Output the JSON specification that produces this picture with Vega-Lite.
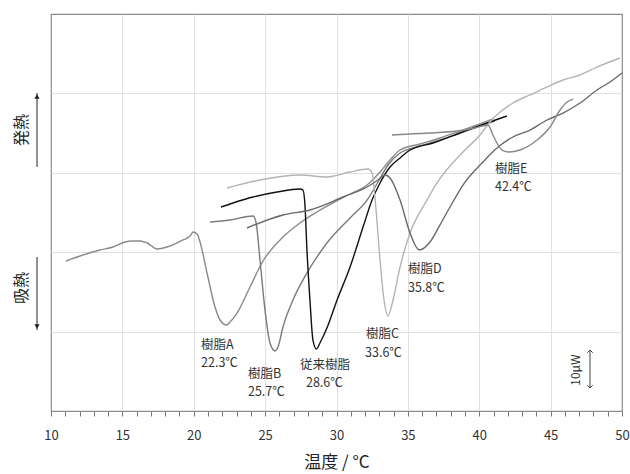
{
  "$schema": "https://vega.github.io/schema/vega-lite/v6.json",
  "width": 571,
  "height": 397,
  "autosize": {"type": "none"},
  "padding": {"left": 51, "top": 14, "right": 8, "bottom": 63},
  "background": "white",
  "config": {"view": {"stroke": "#8c8c8c", "strokeWidth": 1.2}, "font": "Noto Sans CJK JP"},
  "datasets": {
    "curves": [
      {"s": "A", "x": 11.05, "y": 18.89}, {"s": "A", "x": 12.03, "y": 19.52}, {"s": "A", "x": 13.43, "y": 20.28}, {"s": "A", "x": 14.34, "y": 20.65}, {"s": "A", "x": 15.18, "y": 21.28}, {"s": "A", "x": 15.67, "y": 21.41}, {"s": "A", "x": 16.23, "y": 21.41}, {"s": "A", "x": 16.73, "y": 21.16}, {"s": "A", "x": 17.43, "y": 20.4}, {"s": "A", "x": 18.34, "y": 20.78}, {"s": "A", "x": 19.25, "y": 21.54}, {"s": "A", "x": 19.74, "y": 22.04}, {"s": "A", "x": 19.95, "y": 22.54}, {"s": "A", "x": 20.23, "y": 22.29}, {"s": "A", "x": 20.44, "y": 21.28}, {"s": "A", "x": 20.93, "y": 17.38}, {"s": "A", "x": 21.49, "y": 13.1}, {"s": "A", "x": 21.84, "y": 11.46}, {"s": "A", "x": 22.3, "y": 10.83}, {"s": "A", "x": 22.54, "y": 11.21}, {"s": "A", "x": 23.03, "y": 12.34}, {"s": "A", "x": 23.94, "y": 15.62}, {"s": "A", "x": 24.85, "y": 18.89}, {"s": "A", "x": 26.25, "y": 21.91}, {"s": "A", "x": 27.44, "y": 23.68}, {"s": "A", "x": 28.63, "y": 25.06}, {"s": "A", "x": 29.75, "y": 26.2}, {"s": "A", "x": 30.95, "y": 27.33}, {"s": "A", "x": 32.14, "y": 28.46}, {"s": "A", "x": 33.05, "y": 30.1}, {"s": "A", "x": 33.75, "y": 31.61}, {"s": "A", "x": 34.45, "y": 32.87}, {"s": "A", "x": 35.85, "y": 33.63}, {"s": "A", "x": 37.25, "y": 34.38}, {"s": "A", "x": 38.65, "y": 35.26}, {"s": "A", "x": 40.05, "y": 36.15}, {"s": "A", "x": 40.96, "y": 36.78},
      {"s": "B", "x": 21.14, "y": 23.8}, {"s": "B", "x": 22.54, "y": 24.06}, {"s": "B", "x": 24.15, "y": 24.56}, {"s": "B", "x": 24.36, "y": 23.8}, {"s": "B", "x": 24.64, "y": 19.02}, {"s": "B", "x": 24.99, "y": 12.72}, {"s": "B", "x": 25.34, "y": 8.56}, {"s": "B", "x": 25.7, "y": 7.56}, {"s": "B", "x": 25.9, "y": 8.06}, {"s": "B", "x": 26.25, "y": 10.58}, {"s": "B", "x": 26.95, "y": 13.98}, {"s": "B", "x": 27.93, "y": 17.38}, {"s": "B", "x": 29.33, "y": 21.16}, {"s": "B", "x": 30.95, "y": 24.31}, {"s": "B", "x": 32.14, "y": 26.57}, {"s": "B", "x": 32.91, "y": 28.84}, {"s": "B", "x": 33.61, "y": 30.98}, {"s": "B", "x": 34.45, "y": 32.49}, {"s": "B", "x": 35.85, "y": 33.38}, {"s": "B", "x": 37.25, "y": 34.13}, {"s": "B", "x": 38.65, "y": 35.01}, {"s": "B", "x": 40.05, "y": 35.89}, {"s": "B", "x": 41.1, "y": 36.52},
      {"s": "従来", "x": 21.91, "y": 25.69}, {"s": "従来", "x": 22.75, "y": 26.2}, {"s": "従来", "x": 24.15, "y": 26.95}, {"s": "従来", "x": 25.83, "y": 27.58}, {"s": "従来", "x": 27.44, "y": 27.96}, {"s": "従来", "x": 27.65, "y": 27.83}, {"s": "従来", "x": 27.79, "y": 25.94}, {"s": "従来", "x": 27.93, "y": 20.28}, {"s": "従来", "x": 28.14, "y": 13.98}, {"s": "従来", "x": 28.35, "y": 8.94}, {"s": "従来", "x": 28.6, "y": 7.81}, {"s": "従来", "x": 28.84, "y": 8.56}, {"s": "従来", "x": 29.33, "y": 10.45}, {"s": "従来", "x": 30.04, "y": 13.98}, {"s": "従来", "x": 30.95, "y": 18.14}, {"s": "従来", "x": 31.86, "y": 23.17}, {"s": "従来", "x": 32.49, "y": 26.57}, {"s": "従来", "x": 33.05, "y": 28.72}, {"s": "従来", "x": 33.75, "y": 30.73}, {"s": "従来", "x": 34.45, "y": 31.86}, {"s": "従来", "x": 35.15, "y": 32.87}, {"s": "従来", "x": 36.76, "y": 33.75}, {"s": "従来", "x": 38.65, "y": 35.01}, {"s": "従来", "x": 40.54, "y": 36.27}, {"s": "従来", "x": 41.94, "y": 37.15},
      {"s": "C", "x": 22.33, "y": 28.09}, {"s": "C", "x": 24.64, "y": 29.09}, {"s": "C", "x": 27.44, "y": 29.72}, {"s": "C", "x": 29.33, "y": 29.47}, {"s": "C", "x": 30.95, "y": 30.1}, {"s": "C", "x": 32.21, "y": 30.48}, {"s": "C", "x": 32.49, "y": 29.97}, {"s": "C", "x": 32.77, "y": 25.31}, {"s": "C", "x": 33.05, "y": 19.02}, {"s": "C", "x": 33.33, "y": 13.98}, {"s": "C", "x": 33.6, "y": 11.96}, {"s": "C", "x": 33.96, "y": 13.98}, {"s": "C", "x": 34.45, "y": 18.14}, {"s": "C", "x": 35.15, "y": 22.42}, {"s": "C", "x": 36.34, "y": 26.57}, {"s": "C", "x": 37.04, "y": 28.72}, {"s": "C", "x": 38.86, "y": 32.62}, {"s": "C", "x": 40.05, "y": 34.76}, {"s": "C", "x": 40.75, "y": 36.4}, {"s": "C", "x": 42.36, "y": 38.79}, {"s": "C", "x": 43.56, "y": 39.8}, {"s": "C", "x": 44.75, "y": 40.81}, {"s": "C", "x": 45.87, "y": 41.69}, {"s": "C", "x": 47.06, "y": 42.32}, {"s": "C", "x": 48.25, "y": 43.32}, {"s": "C", "x": 49.86, "y": 44.46},
      {"s": "D", "x": 23.73, "y": 23.05}, {"s": "D", "x": 26.25, "y": 24.69}, {"s": "D", "x": 28.14, "y": 25.31}, {"s": "D", "x": 30.46, "y": 26.95}, {"s": "D", "x": 32.14, "y": 28.21}, {"s": "D", "x": 32.91, "y": 29.09}, {"s": "D", "x": 33.4, "y": 29.72}, {"s": "D", "x": 33.75, "y": 29.35}, {"s": "D", "x": 34.45, "y": 26.57}, {"s": "D", "x": 35.15, "y": 22.42}, {"s": "D", "x": 35.8, "y": 20.28}, {"s": "D", "x": 36.55, "y": 21.28}, {"s": "D", "x": 37.25, "y": 23.43}, {"s": "D", "x": 37.95, "y": 25.69}, {"s": "D", "x": 38.86, "y": 28.46}, {"s": "D", "x": 40.26, "y": 31.36}, {"s": "D", "x": 41.24, "y": 33.12}, {"s": "D", "x": 42.36, "y": 34.51}, {"s": "D", "x": 43.56, "y": 35.39}, {"s": "D", "x": 44.75, "y": 36.65}, {"s": "D", "x": 45.87, "y": 37.53}, {"s": "D", "x": 47.06, "y": 38.79}, {"s": "D", "x": 48.25, "y": 40.43}, {"s": "D", "x": 49.16, "y": 41.44}, {"s": "D", "x": 50.0, "y": 42.57},
      {"s": "E", "x": 33.89, "y": 34.76}, {"s": "E", "x": 35.15, "y": 34.89}, {"s": "E", "x": 36.55, "y": 35.01}, {"s": "E", "x": 38.44, "y": 35.26}, {"s": "E", "x": 39.7, "y": 35.64}, {"s": "E", "x": 40.61, "y": 36.02}, {"s": "E", "x": 40.96, "y": 34.76}, {"s": "E", "x": 41.24, "y": 33.75}, {"s": "E", "x": 41.59, "y": 32.87}, {"s": "E", "x": 42.1, "y": 32.62}, {"s": "E", "x": 42.85, "y": 32.87}, {"s": "E", "x": 44.05, "y": 34.13}, {"s": "E", "x": 44.96, "y": 35.77}, {"s": "E", "x": 45.66, "y": 37.91}, {"s": "E", "x": 46.15, "y": 38.92}, {"s": "E", "x": 46.57, "y": 39.29}
    ],
    "labels": [
      {"t": "樹脂A", "x": 20.51, "y": 8.29}, {"t": "22.3℃", "x": 20.51, "y": 6.0},
      {"t": "樹脂B", "x": 23.8, "y": 4.63}, {"t": "25.7℃", "x": 23.8, "y": 2.34},
      {"t": "従来樹脂", "x": 27.44, "y": 5.77}, {"t": "28.6℃", "x": 27.86, "y": 3.48},
      {"t": "樹脂C", "x": 32.07, "y": 9.67}, {"t": "33.6℃", "x": 32.0, "y": 7.25},
      {"t": "樹脂D", "x": 35.01, "y": 17.86}, {"t": "35.8℃", "x": 35.01, "y": 15.44},
      {"t": "樹脂E", "x": 41.1, "y": 30.45}, {"t": "42.4℃", "x": 41.1, "y": 28.16}
    ],
    "side": [
      {"t": "発熱", "y": 35.39}, {"t": "吸熱", "y": 15.49}
    ],
    "arrows": [
      {"y": 40.05, "y2": 30.73}, {"y": 19.4, "y2": 10.2}
    ],
    "heads": [
      {"y": 39.6, "shape": "triangle-up"}, {"y": 10.65, "shape": "triangle-down"}
    ],
    "bar": [
      {"y": 7.68, "y2": 2.9}
    ],
    "barheads": [
      {"y": 7.68, "shape": "M-1,1L0,0L1,1"}, {"y": 2.9, "shape": "M-1,-1L0,0L1,-1"}
    ],
    "bartext": [
      {"t": "10μW", "y": 5.16}
    ]
  },
  "layer": [
    {
      "data": {"name": "curves"},
      "mark": {"type": "line", "interpolate": "monotone"},
      "encoding": {
        "x": {
          "field": "x", "type": "quantitative",
          "scale": {"domain": [10, 50], "nice": false, "zero": false},
          "axis": {
            "title": "温度 / °C",
            "titleFontSize": 17, "titleFontWeight": "normal", "titleColor": "#222", "titlePadding": 12,
            "values": [10,11,12,13,14,15,16,17,18,19,20,21,22,23,24,25,26,27,28,29,30,31,32,33,34,35,36,37,38,39,40,41,42,43,44,45,46,47,48,49,50],
            "tickCount": 100,
            "format": "d",
            "labelExpr": "datum.value % 5 === 0 ? datum.label : ''",
            "labelOverlap": false,
            "labelFontSize": 13, "labelColor": "#333", "labelPadding": 13, "labelFlush": false,
            "tickSize": 5, "tickColor": "#777",
            "domainColor": "#8c8c8c",
            "grid": true, "gridColor": "#e0e0e0",
            "gridOpacity": {"condition": {"test": "datum.value % 5 === 0 && datum.value > 10 && datum.value < 50", "value": 1}, "value": 0}
          }
        },
        "y": {
          "field": "y", "type": "quantitative",
          "scale": {"domain": [0, 50], "nice": false},
          "axis": {"title": null, "labels": false, "ticks": false, "domain": false, "values": [10, 20, 30, 40], "tickCount": 100, "grid": true, "gridColor": "#e0e0e0"}
        },
        "color": {
          "field": "s", "type": "nominal",
          "scale": {"domain": ["A", "B", "従来", "C", "D", "E"], "range": ["#8a8a8a", "#7a7a7a", "#111111", "#b4b4b4", "#6a6a6a", "#888888"]},
          "legend": null
        },
        "strokeWidth": {
          "field": "s", "type": "nominal",
          "scale": {"domain": ["A", "B", "従来", "C", "D", "E"], "range": [1.4, 1.4, 2.2, 1.3, 1.5, 1.4]},
          "legend": null
        }
      }
    },
    {
      "data": {"name": "labels"},
      "mark": {"type": "text", "align": "left", "baseline": "middle", "fontSize": 12.5, "color": "#333"},
      "encoding": {
        "x": {"field": "x", "type": "quantitative"},
        "y": {"field": "y", "type": "quantitative"},
        "text": {"field": "t"}
      }
    },
    {
      "data": {"name": "side"},
      "mark": {"type": "text", "align": "center", "baseline": "middle", "fontSize": 16, "angle": 270, "color": "#222", "xOffset": -29},
      "encoding": {
        "x": {"datum": 10, "type": "quantitative"},
        "y": {"field": "y", "type": "quantitative"},
        "text": {"field": "t"}
      }
    },
    {
      "data": {"name": "arrows"},
      "mark": {"type": "rule", "color": "#222", "strokeWidth": 1, "xOffset": -14},
      "encoding": {
        "x": {"datum": 10, "type": "quantitative"},
        "y": {"field": "y", "type": "quantitative"},
        "y2": {"field": "y2"}
      }
    },
    {
      "data": {"name": "heads"},
      "mark": {"type": "point", "filled": true, "color": "#222", "size": 28, "opacity": 1, "xOffset": -14},
      "encoding": {
        "x": {"datum": 10, "type": "quantitative"},
        "y": {"field": "y", "type": "quantitative"},
        "shape": {"field": "shape", "type": "nominal", "scale": null}
      }
    },
    {
      "data": {"name": "bar"},
      "mark": {"type": "rule", "color": "#444", "strokeWidth": 1},
      "encoding": {
        "x": {"datum": 47.76, "type": "quantitative"},
        "y": {"field": "y", "type": "quantitative"},
        "y2": {"field": "y2"}
      }
    },
    {
      "data": {"name": "barheads"},
      "mark": {"type": "point", "filled": false, "color": "#444", "size": 30, "strokeWidth": 1, "opacity": 1},
      "encoding": {
        "x": {"datum": 47.76, "type": "quantitative"},
        "y": {"field": "y", "type": "quantitative"},
        "shape": {"field": "shape", "type": "nominal", "scale": null}
      }
    },
    {
      "data": {"name": "bartext"},
      "mark": {"type": "text", "align": "center", "baseline": "middle", "fontSize": 12, "angle": 270, "color": "#333"},
      "encoding": {
        "x": {"datum": 46.78, "type": "quantitative"},
        "y": {"field": "y", "type": "quantitative"},
        "text": {"field": "t"}
      }
    }
  ]
}
